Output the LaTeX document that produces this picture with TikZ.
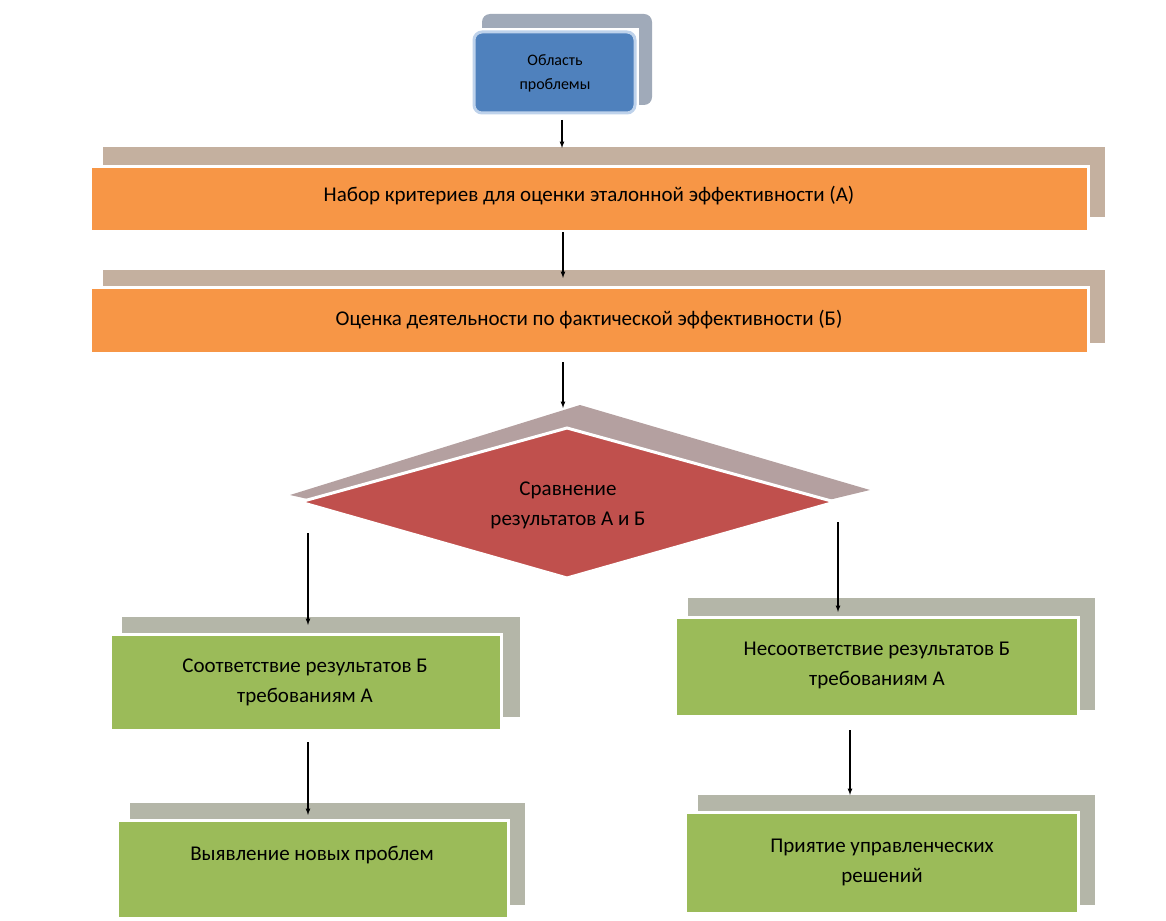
\documentclass[tikz,border=0pt]{standalone}
\usepackage{fontspec}
\setmainfont{Carlito}
\definecolor{tan}{RGB}{196,176,159}
\definecolor{org}{RGB}{247,150,70}
\definecolor{dsh}{RGB}{180,160,160}
\definecolor{red1}{RGB}{192,80,77}
\definecolor{gsh}{RGB}{180,182,168}
\definecolor{grn}{RGB}{155,187,89}
\definecolor{blu}{RGB}{79,129,189}
\definecolor{bsh}{RGB}{160,170,185}
\definecolor{bbd}{RGB}{190,210,235}
\begin{document}
\begin{tikzpicture}[x=1pt,y=-1pt,
 bx/.style={fill=#1,draw=white,line width=3pt},
 lbl/.style={align=center,font=\fontsize{21}{30}\selectfont},
 ar/.style={-latex,line width=1.2pt}]
\useasboundingbox (0,0) rectangle (1166,920);
% top
\fill[bsh,rounded corners=8] (482,14) rectangle (652,105);
\fill[white] (470,28) rectangle (639,117);
\draw[fill=blu,draw=bbd,line width=3pt,rounded corners=8] (474,32) rectangle (635,113);
\node[lbl,font=\fontsize{16}{24}\selectfont] (p) at (555,73) {Область\\проблемы};
% A
\fill[tan] (103,147) rectangle (1105,217);
\draw[bx=org] (90,167) rectangle (1088,231);
\node[lbl] (a) at (589,196) {Набор критериев для оценки эталонной эффективности (А)};
% B
\fill[tan] (103,270) rectangle (1105,343);
\draw[bx=org] (90,287) rectangle (1088,353);
\node[lbl] (b) at (589,320) {Оценка деятельности по фактической эффективности (Б)};
% diamond
\fill[dsh] (580,405) -- (870,490) -- (580,560) -- (290,495) -- cycle;
\draw[bx=red1] (567,428) -- (835,502) -- (567,578) -- (300,502) -- cycle;
\node[lbl] (c) at (568,505) {Сравнение\\результатов А и Б};
% left
\fill[gsh] (122,617) rectangle (520,717);
\draw[bx=grn] (110,634) rectangle (501,730);
\node[lbl] (l1) at (305,682) {Соответствие результатов Б\\требованиям А};
\fill[gsh] (130,803) rectangle (525,905);
\draw[bx=grn] (117,820) rectangle (508,918);
\node[lbl] (l2) at (312,855) {Выявление новых проблем};
% right
\fill[gsh] (688,598) rectangle (1095,710);
\draw[bx=grn] (675,617) rectangle (1078,716);
\node[lbl] (r1) at (877,665) {Несоответствие результатов Б\\требованиям А};
\fill[gsh] (698,795) rectangle (1095,905);
\draw[bx=grn] (685,812) rectangle (1078,913);
\node[lbl] (r2) at (882,862) {Приятие управленческих\\решений};
% arrows
\coordinate (s1) at (562,120); \coordinate (e1) at (562,148);
\coordinate (s2) at (563,232); \coordinate (e2) at (563,278);
\coordinate (s3) at (563,362); \coordinate (e3) at (563,408);
\coordinate (s4) at (308,533); \coordinate (e4) at (308,625);
\coordinate (s5) at (838,522); \coordinate (e5) at (838,612);
\coordinate (s6) at (308,742); \coordinate (e6) at (308,815);
\coordinate (s7) at (850,730); \coordinate (e7) at (850,795);
\foreach \i in {1,...,7} \draw[ar] (s\i) -- (e\i);
\end{tikzpicture}
\end{document}
